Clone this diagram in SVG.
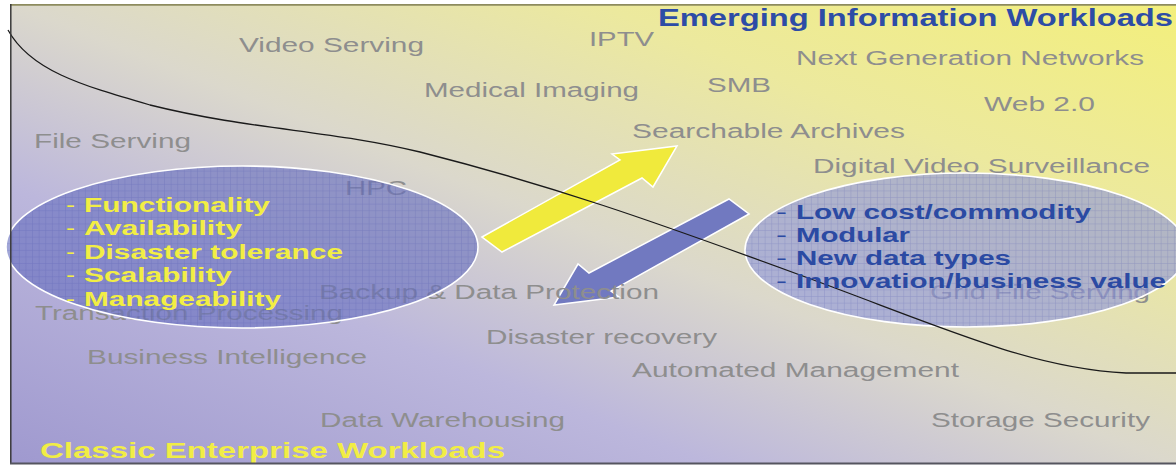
<svg xmlns="http://www.w3.org/2000/svg" width="1176" height="466" viewBox="0 0 1176 466">
  <defs>
    <!-- diagonal wash: lavender lower-left to yellow upper-right -->
    <linearGradient id="wash" x1="0" y1="1" x2="1" y2="0">
      <stop offset="0" stop-color="#9f99cf"/>
      <stop offset="0.3" stop-color="#bcb7dc"/>
      <stop offset="0.5" stop-color="#dbd8cc"/>
      <stop offset="0.75" stop-color="#ece99e"/>
      <stop offset="1" stop-color="#f3ef7c"/>
    </linearGradient>
    <!-- fine mesh used inside the two ellipses -->
    <pattern id="mesh" width="6.6" height="6.6" patternUnits="userSpaceOnUse">
      <path d="M6.6 0V6.6M0 6.6H6.6" fill="none" stroke="#3c48a8" stroke-opacity="0.28" stroke-width="1"/>
    </pattern>
    <style>
      .lbl { font-family: "Liberation Sans", Arial, sans-serif; font-size: 19.5px; fill: #8e8e8e; }
      .ybul { font-family: "Liberation Sans", Arial, sans-serif; font-size: 20px; font-weight: bold; fill: #f2ee44; }
      .bbul { font-family: "Liberation Sans", Arial, sans-serif; font-size: 19.5px; font-weight: bold; fill: #2b4aa3; }
      .ydash { font-family: "Liberation Sans", Arial, sans-serif; font-size: 20px; fill: #f2ee44; }
      .bdash { font-family: "Liberation Sans", Arial, sans-serif; font-size: 20px; fill: #2b4aa3; }
      .title { font-family: "Liberation Sans", Arial, sans-serif; font-weight: bold; }
      .arrow { stroke: #ffffff; stroke-width: 1.5; stroke-linejoin: miter; }
      .rim { fill: none; stroke: #ffffff; stroke-width: 1.6; }
    </style>
  </defs>

  <!-- page and panel background -->
  <rect x="0" y="0" width="1176" height="466" fill="#ffffff"/>
  <rect x="10" y="4" width="1166" height="460" fill="url(#wash)"/>

  <!-- migration arrows -->
  <g id="connectors">
    <polygon class="arrow" fill="#f0ea3c" points="482,237 620,160 612,154 677,146 653,187 642,178 502,252"/>
    <polygon class="arrow" fill="#7179c0" points="749,214 611,291 619,297 554,305 578,264 589,273 729,199"/>
  </g>

  <!-- workload labels -->
  <g id="video-serving"><text class="lbl" x="239" y="52" textLength="185" lengthAdjust="spacingAndGlyphs">Video Serving</text></g>
  <g id="iptv"><text class="lbl" x="589" y="46" textLength="65" lengthAdjust="spacingAndGlyphs">IPTV</text></g>
  <g id="medical-imaging"><text class="lbl" x="424" y="96.5" textLength="215" lengthAdjust="spacingAndGlyphs">Medical Imaging</text></g>
  <g id="smb"><text class="lbl" x="707" y="91.5" textLength="64" lengthAdjust="spacingAndGlyphs">SMB</text></g>
  <g id="searchable-archives"><text class="lbl" x="632" y="137.5" textLength="273" lengthAdjust="spacingAndGlyphs">Searchable Archives</text></g>
  <g id="next-generation-networks"><text class="lbl" x="796" y="65" textLength="348" lengthAdjust="spacingAndGlyphs">Next Generation Networks</text></g>
  <g id="web-2-0"><text class="lbl" x="984" y="111" textLength="111" lengthAdjust="spacingAndGlyphs">Web 2.0</text></g>
  <g id="file-serving"><text class="lbl" x="34" y="147.5" textLength="157" lengthAdjust="spacingAndGlyphs">File Serving</text></g>
  <g id="hpc"><text class="lbl" x="345" y="195" textLength="62" lengthAdjust="spacingAndGlyphs">HPC</text></g>
  <g id="digital-video-surveillance"><text class="lbl" x="813" y="172.5" textLength="337" lengthAdjust="spacingAndGlyphs">Digital Video Surveillance</text></g>
  <g id="backup-data-protection"><text class="lbl" x="319" y="299" textLength="340" lengthAdjust="spacingAndGlyphs">Backup &amp; Data Protection</text></g>
  <g id="transaction-processing"><text class="lbl" x="35" y="320" textLength="308" lengthAdjust="spacingAndGlyphs">Transaction Processing</text></g>
  <g id="grid-file-serving"><text class="lbl" x="930" y="299" textLength="220" lengthAdjust="spacingAndGlyphs">Grid File Serving</text></g>
  <g id="disaster-recovery"><text class="lbl" x="486" y="344" textLength="231" lengthAdjust="spacingAndGlyphs">Disaster recovery</text></g>
  <g id="automated-management"><text class="lbl" x="632" y="377" textLength="327" lengthAdjust="spacingAndGlyphs">Automated Management</text></g>
  <g id="business-intelligence"><text class="lbl" x="87" y="364" textLength="280" lengthAdjust="spacingAndGlyphs">Business Intelligence</text></g>
  <g id="data-warehousing"><text class="lbl" x="320" y="427" textLength="245" lengthAdjust="spacingAndGlyphs">Data Warehousing</text></g>
  <g id="storage-security"><text class="lbl" x="931" y="427" textLength="219" lengthAdjust="spacingAndGlyphs">Storage Security</text></g>

  <!-- classic requirements ellipse -->
  <g id="classic-requirements">
    <ellipse cx="242" cy="247" rx="236" ry="81" fill="#6870bf" fill-opacity="0.62"/>
    <ellipse cx="242" cy="247" rx="236" ry="81" fill="url(#mesh)"/>
    <ellipse class="rim" cx="242" cy="247" rx="236" ry="81"/>
  </g>

  <!-- emerging requirements ellipse -->
  <g id="emerging-requirements">
    <ellipse cx="966" cy="250" rx="221" ry="77" fill="#8e96dc" fill-opacity="0.62"/>
    <ellipse cx="966" cy="250" rx="221" ry="77" fill="url(#mesh)"/>
    <ellipse class="rim" cx="966" cy="250" rx="221" ry="77"/>
  </g>

  <!-- dividing curve between the two workload regions -->
  <g id="divider">
    <path d="M8,30 C30,70 80,85 150,105 C250,130 330,130 420,152 C550,185 650,220 800,275 C950,330 1030,368 1126,373 L1180,373" fill="none" stroke="#1a1a1a" stroke-width="1.3"/>
  </g>

  <!-- bullet lists -->
  <g id="classic-bullets">
    <text class="ydash" x="66" y="212" textLength="9" lengthAdjust="spacingAndGlyphs">-</text>
    <text class="ybul" x="84" y="212" textLength="186" lengthAdjust="spacingAndGlyphs">Functionality</text>
    <text class="ydash" x="66" y="235" textLength="9" lengthAdjust="spacingAndGlyphs">-</text>
    <text class="ybul" x="84" y="235" textLength="158" lengthAdjust="spacingAndGlyphs">Availability</text>
    <text class="ydash" x="66" y="258.5" textLength="9" lengthAdjust="spacingAndGlyphs">-</text>
    <text class="ybul" x="84" y="258.5" textLength="259" lengthAdjust="spacingAndGlyphs">Disaster tolerance</text>
    <text class="ydash" x="66" y="282" textLength="9" lengthAdjust="spacingAndGlyphs">-</text>
    <text class="ybul" x="84" y="282" textLength="148" lengthAdjust="spacingAndGlyphs">Scalability</text>
    <text class="ydash" x="66" y="305.5" textLength="9" lengthAdjust="spacingAndGlyphs">-</text>
    <text class="ybul" x="84" y="305.5" textLength="197" lengthAdjust="spacingAndGlyphs">Manageability</text>
  </g>
  <g id="emerging-bullets">
    <text class="bdash" x="776" y="218.5" textLength="11" lengthAdjust="spacingAndGlyphs">-</text>
    <text class="bbul" x="796" y="218.5" textLength="295" lengthAdjust="spacingAndGlyphs">Low cost/commodity</text>
    <text class="bdash" x="776" y="241.5" textLength="11" lengthAdjust="spacingAndGlyphs">-</text>
    <text class="bbul" x="796" y="241.5" textLength="114" lengthAdjust="spacingAndGlyphs">Modular</text>
    <text class="bdash" x="776" y="264.5" textLength="11" lengthAdjust="spacingAndGlyphs">-</text>
    <text class="bbul" x="796" y="264.5" textLength="215" lengthAdjust="spacingAndGlyphs">New data types</text>
    <text class="bdash" x="776" y="287.5" textLength="11" lengthAdjust="spacingAndGlyphs">-</text>
    <text class="bbul" x="796" y="287.5" textLength="370" lengthAdjust="spacingAndGlyphs">Innovation/business value</text>
  </g>

  <!-- region titles -->
  <g id="emerging-title">
    <text class="title" x="658" y="26" font-size="23.5" fill="#2d4ca6" textLength="515" lengthAdjust="spacingAndGlyphs">Emerging Information Workloads</text>
  </g>
  <g id="classic-title">
    <text class="title" x="40" y="458" font-size="22" fill="#f1ed45" textLength="465" lengthAdjust="spacingAndGlyphs">Classic Enterprise Workloads</text>
  </g>

  <!-- panel frame -->
  <g id="frame" fill="none">
    <line x1="10" y1="4.8" x2="1176" y2="4.8" stroke="#8d8b5e" stroke-width="1.8"/>
    <line x1="10.8" y1="4" x2="10.8" y2="464" stroke="#3a3a3a" stroke-width="1.5"/>
    <line x1="10" y1="463.5" x2="1176" y2="463.5" stroke="#55555f" stroke-width="2"/>
  </g>
</svg>
